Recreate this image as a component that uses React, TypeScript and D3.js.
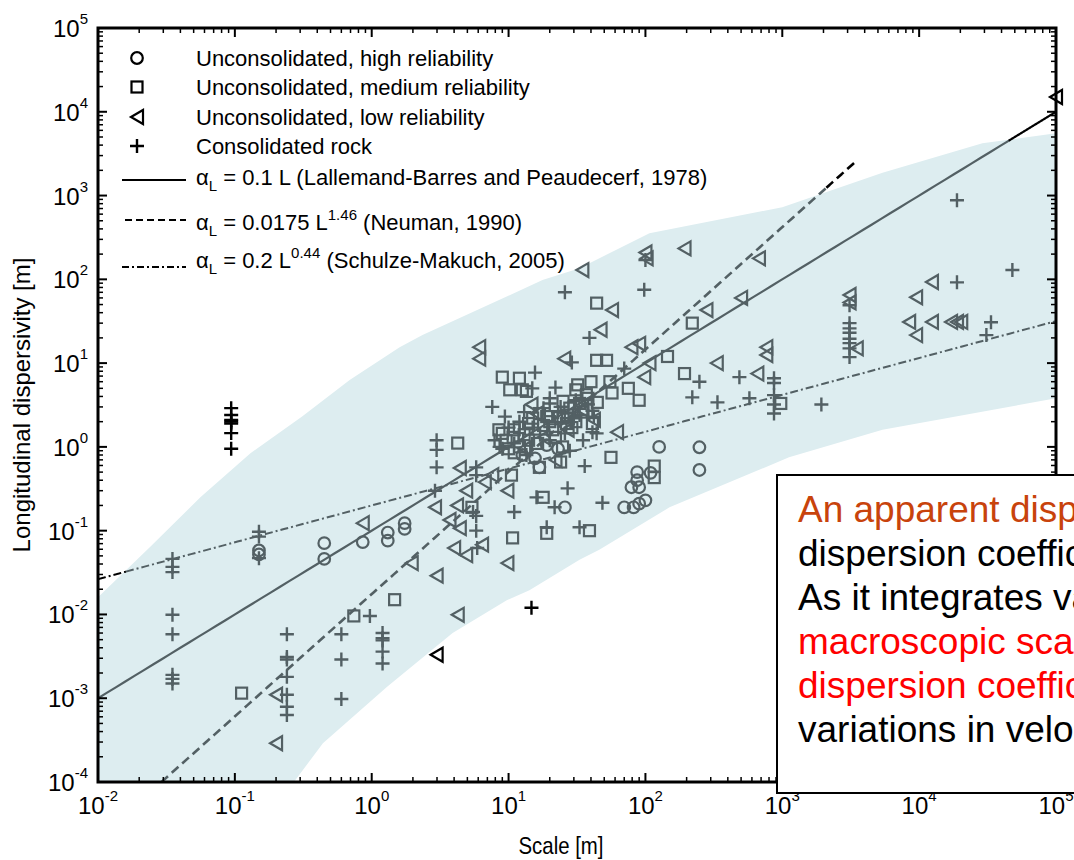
import React from 'react'
import * as d3 from 'd3'

// scale [m] vs longitudinal dispersivity [m]
const highReliability: [number, number][] = [
  [0.15, 0.058], [0.15, 0.052], [0.45, 0.071], [0.45, 0.046], [0.86, 0.073],
  [1.31, 0.095], [1.31, 0.076], [1.74, 0.123], [1.74, 0.105], [15.6, 0.73],
  [12.6, 0.8], [16.8, 0.57], [25.8, 0.19], [87, 0.5], [87, 0.4], [79, 0.33],
  [90, 0.33], [109, 0.49], [70, 0.19], [82, 0.19], [90, 0.21], [100, 0.23],
  [126, 1.0], [248, 0.99], [248, 0.53], [19, 1.05], [23, 0.95],
]

const mediumReliability: [number, number][] = [
  [0.112, 0.00115], [0.74, 0.0096], [1.47, 0.015], [4.25, 1.11], [5.4, 0.19],
  [10.7, 0.082], [17.9, 0.25], [19, 0.093], [24, 0.66], [24.8, 1.0], [16.8, 0.57],
  [10.5, 0.46], [39, 0.1], [56, 0.75], [116, 0.59], [116, 0.43], [44, 52],
  [220, 30], [145, 12], [75, 5.0], [90, 3.6], [57, 4.4], [55, 6.0], [44, 10.8],
  [52, 10.8], [193, 7.5], [975, 3.3], [9.0, 6.8], [12, 6.6], [10.2, 4.8],
  [12.6, 4.8], [13.5, 4.6], [16.8, 2.5], [19, 2.3], [23.5, 2.3], [26.5, 1.9],
  [9.0, 1.45], [9.6, 1.2], [10.8, 1.3], [12, 1.7], [12, 1.0], [16.3, 1.1],
  [31, 4.8], [37, 4.2], [44.5, 3.4], [41, 1.9], [35, 2.6], [28, 2.9],
  [11, 1.6], [13, 1.4], [14, 1.9], [15, 2.2], [18, 1.8], [20, 2.0], [21, 1.6],
  [22, 1.3], [25, 2.2], [27, 2.4], [30, 3.0], [33, 3.3], [38, 3.8], [29, 1.7],
  [31, 2.0], [8.5, 1.6], [10, 0.95], [11, 0.85], [14, 1.2], [25, 3.5], [32, 5.5],
  [40, 6.0],
]

const lowReliability: [number, number][] = [
  [0.2, 0.0011], [0.2, 0.00029], [0.86, 0.123], [1.96, 0.041], [2.98, 0.029],
  [4.25, 0.0099], [4.0, 0.062], [4.4, 0.56], [4.9, 0.3], [6.7, 0.38], [7.6, 0.46],
  [2.9, 0.19], [4.2, 0.2], [4.4, 0.107], [4.9, 0.051], [6.4, 0.068], [9.8, 0.041],
  [9.8, 0.3], [3.7, 0.134], [6.1, 15.5], [6.1, 11.3], [25.5, 11.3], [14.7, 3.2],
  [16, 2.5], [34.6, 129], [100, 209], [102, 178], [193, 234], [57, 43], [47, 25],
  [79, 15.5], [90, 17], [107, 10], [98, 6.8], [62, 1.5], [42, 2.1], [279, 43],
  [500, 60], [675, 178], [332, 10], [657, 7.5], [764, 15.5], [764, 12.5],
  [3100, 65], [3100, 53], [3500, 15], [8450, 31], [9500, 61], [9500, 21.6],
  [12400, 93], [12400, 31], [17100, 31], [18900, 31], [20300, 31],
  [13, 0.95], [18, 1.3], [27, 1.6], [34, 2.8], [22, 0.7],
]

const consolidatedRock: [number, number][] = [
  [0.035, 0.046], [0.035, 0.037], [0.035, 0.032], [0.035, 0.0099], [0.035, 0.0058],
  [0.035, 0.0019], [0.035, 0.0017], [0.035, 0.0015],
  [0.15, 0.097], [0.15, 0.085], [0.15, 0.047],
  [0.24, 0.0058], [0.24, 0.0031], [0.24, 0.0029], [0.24, 0.0018], [0.24, 0.0011],
  [0.24, 0.00079], [0.24, 0.00063],
  [0.6, 0.0058], [0.6, 0.0029], [0.6, 0.00098], [0.97, 0.0096],
  [1.2, 0.006], [1.2, 0.0052], [1.2, 0.0049], [1.2, 0.0036], [1.2, 0.0026],
  [2.98, 1.2], [2.98, 0.92], [2.98, 0.57], [2.9, 0.3],
  [5.8, 0.57], [5.8, 0.46], [5.5, 0.167], [5.8, 0.15], [5.8, 0.1], [5.9, 0.062],
  [11, 0.167], [16, 0.25], [27, 0.32], [21.7, 0.19], [19, 0.11], [33, 0.11],
  [48.5, 0.215], [36, 0.59], [25.8, 70], [98, 75], [100, 170], [39, 20],
  [15.6, 7.7], [7.6, 3.0], [22, 5.1], [29, 10.2], [42, 2.3], [41, 1.5], [41, 2.7],
  [14.9, 5.0], [20, 3.8], [20, 3.3], [44, 1.45], [25.8, 1.45], [9.4, 2.3],
  [7.9, 1.2], [8.6, 1.0], [13.5, 0.8], [70, 8.6], [12, 2.0], [17, 1.4], [23, 2.6],
  [31, 3.6], [35, 1.2], [28, 0.9],
  [10, 1.7], [13, 2.6], [18, 2.9], [24, 3.0], [33, 2.4], [15, 1.7], [20, 1.2],
  [30, 2.2], [38, 3.2], [11, 1.1], [9, 0.95],
  [220, 3.9], [336, 3.4], [248, 6.0], [486, 6.8], [575, 3.8],
  [870, 6.6], [870, 5.8], [870, 4.15], [870, 3.2], [870, 2.5], [1930, 3.2],
  [3100, 49], [3100, 30], [3100, 26], [3100, 23], [3100, 19.5], [3100, 17.3],
  [3100, 15], [3100, 11.8],
  [18900, 880], [18900, 92], [48000, 129], [33500, 30.7], [31000, 21.6],
]

const blackCrosses: [number, number][] = [
  [0.094, 2.9], [0.094, 2.4], [0.094, 2.1], [0.094, 2.0], [0.094, 1.9],
  [0.094, 1.46], [0.094, 0.95], [14.7, 0.012],
]
const blackTriangles: [number, number][] = [[2.98, 0.0033], [100000, 15000]]

// shaded envelope, upper edge left->right then lower edge right->left
const bandUpper: [number, number][] = [
  [0.01, 0.016], [0.024, 0.064], [0.056, 0.25], [0.13, 0.84], [0.31, 2.3],
  [0.69, 6.3], [1.6, 15.5], [2.35, 21.6], [17.7, 98], [33, 136], [107, 355],
  [1000, 725], [5400, 1870], [29000, 4200], [100000, 5560],
]
const bandLower: [number, number][] = [
  [100000, 3.8], [5400, 1.6], [1120, 0.75], [150, 0.19], [46, 0.059], [33, 0.045],
  [14.2, 0.0195], [9.7, 0.0148], [3.9, 0.006], [1.29, 0.00136], [0.44, 0.00029],
  [0.27, 0.0001], [0.01, 0.0001],
]

const xTickExps = [-2, -1, 0, 1, 2, 3, 4, 5]
const yTickExps = [-4, -3, -2, -1, 0, 1, 2, 3, 4, 5]

const boxLines = [
  { text: 'An apparent dispersivity is introduced as a', color: '#c8430c' },
  { text: 'dispersion coefficient at the field scale.', color: '#000' },
  { text: 'As it integrates variations of velocity,', color: '#000' },
  { text: 'macroscopic scale apparent', color: '#ff0000' },
  { text: 'dispersion coefficient accounts for', color: '#ff0000' },
  { text: 'variations in velocity.', color: '#000' },
]

const W = 1074
const H = 860
const M = { left: 98, right: 1056, top: 28, bottom: 782 }
const GRAY = '#536064'
const BAND = '#ddedf0'
const FONT = '"Liberation Sans", Arial, sans-serif'

const x = d3.scaleLog().domain([1e-2, 1e5]).range([M.left, M.right])
const y = d3.scaleLog().domain([1e-4, 1e5]).range([M.bottom, M.top])

function lineFn(f: (L: number) => number, from: number, to: number) {
  const pts = d3.range(0, 101).map(i => {
    const L = Math.pow(10, Math.log10(from) + (Math.log10(to) - Math.log10(from)) * i / 100)
    return [L, f(L)] as [number, number]
  })
  return d3.line<[number, number]>().x(d => x(d[0])).y(d => y(d[1]))(pts) || ''
}

const lallemand = (L: number) => 0.1 * L
const neuman = (L: number) => 0.0175 * Math.pow(L, 1.46)
const schulze = (L: number) => 0.2 * Math.pow(L, 0.44)

function Circle({ cx, cy, color }: any) {
  return <circle cx={cx} cy={cy} r={5.8} fill="none" stroke={color} strokeWidth={2.2} />
}
function Square({ cx, cy, color }: any) {
  return <rect x={cx - 5.5} y={cy - 5.5} width={11} height={11} fill="none" stroke={color} strokeWidth={2.2} />
}
function Tri({ cx, cy, color }: any) {
  return <path d={`M${cx - 6},${cy}L${cx + 6},${cy - 7}L${cx + 6},${cy + 7}Z`} fill="none" stroke={color} strokeWidth={2.2} strokeLinejoin="miter" />
}
function Cross({ cx, cy, color }: any) {
  return <path d={`M${cx - 7},${cy}H${cx + 7}M${cx},${cy - 7}V${cy + 7}`} stroke={color} strokeWidth={2.4} />
}

export default function App() {
  const bandPath = d3.line<[number, number]>().x(d => x(d[0])).y(d => y(d[1]))([...bandUpper, ...bandLower]) + 'Z'

  const minorX: number[] = []
  xTickExps.slice(0, -1).forEach(e => { for (let k = 2; k < 10; k++) minorX.push(k * Math.pow(10, e)) })
  const minorY: number[] = []
  yTickExps.slice(0, -1).forEach(e => { for (let k = 2; k < 10; k++) minorY.push(k * Math.pow(10, e)) })

  const legendMarkers = [
    { label: 'Unconsolidated, high reliability', C: Circle, yy: 58 },
    { label: 'Unconsolidated, medium reliability', C: Square, yy: 87 },
    { label: 'Unconsolidated, low reliability', C: Tri, yy: 117 },
    { label: 'Consolidated rock', C: Cross, yy: 146 },
  ]

  return (
    <svg width={W} height={H} style={{ position: 'absolute', left: 0, top: 0, background: '#fff' }} fontFamily={FONT}>
      <defs>
        <clipPath id="plot">
          <rect x={M.left} y={M.top} width={M.right - M.left} height={M.bottom - M.top} />
        </clipPath>
      </defs>
      <rect width={W} height={H} fill="#fff" />
      <path d={bandPath} fill={BAND} clipPath="url(#plot)" />

      {/* fitted relations */}
      <g clipPath="url(#plot)" fill="none">
        <path d={lineFn(lallemand, 0.01, 45000)} stroke={GRAY} strokeWidth={2.2} />
        <path d={lineFn(lallemand, 45000, 100000)} stroke="#000" strokeWidth={2.2} />
        <path d={lineFn(neuman, 0.029, 2100)} stroke={GRAY} strokeWidth={2.6} strokeDasharray="9,5" />
        <path d={lineFn(neuman, 2100, 3400)} stroke="#000" strokeWidth={2.6} strokeDasharray="9,5" />
        <path d={lineFn(schulze, 0.01, 0.016)} stroke="#000" strokeWidth={2} strokeDasharray="8,3,2,3" />
        <path d={lineFn(schulze, 0.016, 100000)} stroke={GRAY} strokeWidth={2} strokeDasharray="8,3,2,3" />
      </g>

      {/* data */}
      <g>
        {highReliability.map((d, i) => <Circle key={'c' + i} cx={x(d[0])} cy={y(d[1])} color={GRAY} />)}
        {mediumReliability.map((d, i) => <Square key={'s' + i} cx={x(d[0])} cy={y(d[1])} color={GRAY} />)}
        {lowReliability.map((d, i) => <Tri key={'t' + i} cx={x(d[0])} cy={y(d[1])} color={GRAY} />)}
        {consolidatedRock.map((d, i) => <Cross key={'p' + i} cx={x(d[0])} cy={y(d[1])} color={GRAY} />)}
        {blackCrosses.map((d, i) => <Cross key={'bp' + i} cx={x(d[0])} cy={y(d[1])} color="#000" />)}
        {blackTriangles.map((d, i) => <Tri key={'bt' + i} cx={x(d[0])} cy={y(d[1])} color="#000" />)}
      </g>

      {/* axes frame and ticks */}
      <g stroke="#000">
        {xTickExps.map(e => {
          const px = x(Math.pow(10, e))
          return <g key={'xt' + e}>
            <line x1={px} x2={px} y1={M.bottom} y2={M.bottom - 9} strokeWidth={2} />
            <line x1={px} x2={px} y1={M.top} y2={M.top + 9} strokeWidth={2} />
          </g>
        })}
        {minorX.map((v, i) => {
          const px = x(v)
          return <g key={'xm' + i}>
            <line x1={px} x2={px} y1={M.bottom} y2={M.bottom - 5} strokeWidth={1.5} />
            <line x1={px} x2={px} y1={M.top} y2={M.top + 5} strokeWidth={1.5} />
          </g>
        })}
        {yTickExps.map(e => {
          const py = y(Math.pow(10, e))
          return <g key={'yt' + e}>
            <line x1={M.left} x2={M.left + 9} y1={py} y2={py} strokeWidth={2} />
            <line x1={M.right} x2={M.right - 9} y1={py} y2={py} strokeWidth={2} />
          </g>
        })}
        {minorY.map((v, i) => {
          const py = y(v)
          return <g key={'ym' + i}>
            <line x1={M.left} x2={M.left + 5} y1={py} y2={py} strokeWidth={1.5} />
            <line x1={M.right} x2={M.right - 5} y1={py} y2={py} strokeWidth={1.5} />
          </g>
        })}
        <rect x={M.left} y={M.top} width={M.right - M.left} height={M.bottom - M.top} fill="none" strokeWidth={3} />
      </g>

      {/* tick labels */}
      <g fill="#000" fontSize={24}>
        {xTickExps.map(e => (
          <text key={'xl' + e} x={x(Math.pow(10, e))} y={814} textAnchor="middle">
            10<tspan fontSize={15} dy={-13}>{e}</tspan>
          </text>
        ))}
        {yTickExps.map(e => (
          <text key={'yl' + e} x={88} y={y(Math.pow(10, e)) + 9} textAnchor="end">
            10<tspan fontSize={15} dy={-13}>{e}</tspan>
          </text>
        ))}
      </g>

      <text transform="translate(561,854) scale(0.85,1)" textAnchor="middle" fontSize={24}>Scale [m]</text>
      <text transform={`translate(30,${(M.top + M.bottom) / 2}) rotate(-90)`} textAnchor="middle" fontSize={24}>
        Longitudinal dispersivity [m]
      </text>

      {/* legend */}
      <g fontSize={22}>
        {legendMarkers.map(({ label, C, yy }) => (
          <g key={label}>
            <C cx={137} cy={yy} color="#000" />
            <text x={196} y={yy + 7.5}>{label}</text>
          </g>
        ))}
        <line x1={122} x2={186} y1={180} y2={180} stroke="#000" strokeWidth={2} />
        <text x={196} y={185}>α<tspan fontSize={15} dy={6}>L</tspan><tspan dy={-6}> = 0.1 L (Lallemand-Barres and Peaudecerf, 1978)</tspan></text>
        <line x1={125} x2={186} y1={220} y2={220} stroke="#000" strokeWidth={2} strokeDasharray="7,4" />
        <text x={196} y={230}>α<tspan fontSize={15} dy={6}>L</tspan><tspan dy={-6}> = 0.0175 L</tspan><tspan fontSize={15} dy={-10}>1.46</tspan><tspan dy={10}> (Neuman, 1990)</tspan></text>
        <line x1={122} x2={186} y1={267} y2={267} stroke="#000" strokeWidth={2} strokeDasharray="7,3,2,3" />
        <text x={196} y={268}>α<tspan fontSize={15} dy={6}>L</tspan><tspan dy={-6}> = 0.2 L</tspan><tspan fontSize={15} dy={-10}>0.44</tspan><tspan dy={10}> (Schulze-Makuch, 2005)</tspan></text>
      </g>

      {/* annotation box */}
      <rect x={777} y={475} width={320} height={318} fill="#fff" stroke="#000" strokeWidth={2} />
      <g fontSize={37}>
        {boxLines.map((l, i) => (
          <text key={i} x={798} y={522 + i * 44} fill={l.color}>{l.text}</text>
        ))}
      </g>
    </svg>
  )
}
